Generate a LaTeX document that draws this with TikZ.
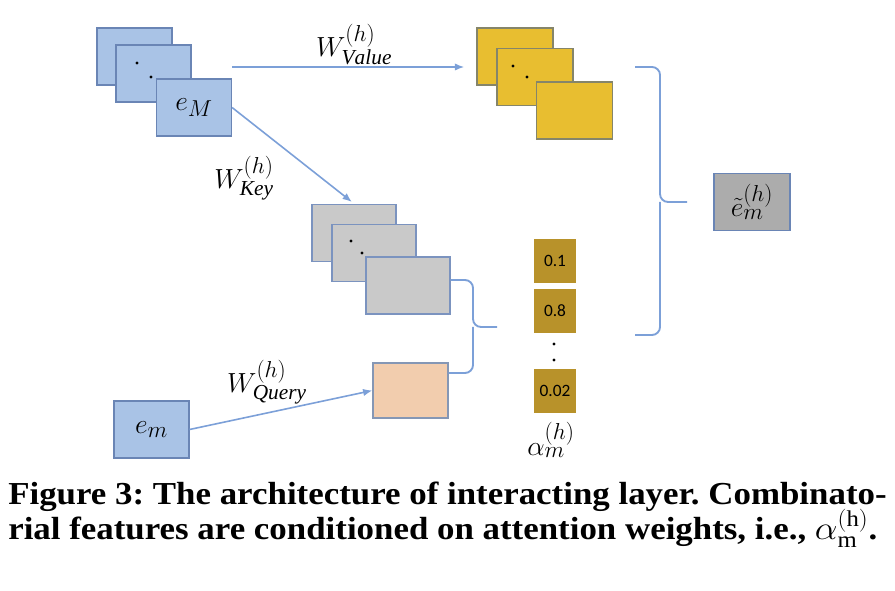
\documentclass[tikz,border=0pt]{standalone}
\usepackage{fontspec}
\setmainfont{Liberation Serif}
\newfontfamily\numfont{Carlito}
\usepackage{tikz}
\usetikzlibrary{arrows.meta}
\DeclareMathSizes{20}{20}{16}{12}
\DeclareMathSizes{24}{24}{17}{12}
\frenchspacing
\definecolor{embfill}{HTML}{A9C3E6}
\definecolor{embline}{HTML}{6A85B5}
\definecolor{valfill}{HTML}{E8BE30}
\definecolor{valline}{HTML}{85856A}
\definecolor{keyfill}{HTML}{C9C9C9}
\definecolor{keyline}{HTML}{7B93BF}
\definecolor{qryfill}{HTML}{F2CDAE}
\definecolor{qryline}{HTML}{8597B5}
\definecolor{wgtfill}{HTML}{B8922A}
\definecolor{outfill}{HTML}{ACACAC}
\definecolor{arrcol}{HTML}{7CA0D8}
\tikzset{box/.style={draw, line width=1.1pt, inner sep=0pt,
         minimum width=56pt, minimum height=43pt,
         font=\fontsize{20}{22}\selectfont},
         embbox/.style={box, fill=embfill, draw=embline},
         valbox/.style={box, fill=valfill, draw=valline, minimum width=57pt},
         keybox/.style={box, fill=keyfill, draw=keyline, minimum width=63pt},
         qrybox/.style={box, fill=qryfill, draw=qryline, minimum height=41pt},
         outbox/.style={box, fill=outfill, draw=embline, minimum width=57pt},
         wgtbox/.style={fill=wgtfill, inner sep=0pt,
         minimum width=31.5pt, minimum height=33pt,
         font=\numfont\fontsize{13}{15}\selectfont},
         arr/.style={draw=arrcol, line width=1.2pt,
         -{Latex[length=7pt,width=5.5pt]}},
         brc/.style={draw=arrcol, line width=1.4pt, rounded corners=6pt},
         lbl/.style={font=\fontsize{20}{22}\selectfont},
         captext/.style={anchor=base west, inner sep=0pt,
         font=\bfseries\fontsize{24}{28}\selectfont}}

\begin{document}
\begin{tikzpicture}[x=0.75pt,y=-0.75pt]
      \useasboundingbox (0,0) rectangle (895,591);

      \begin{scope}
        \node[embbox] (b1) at (134.5,56.5) {};
        \node[embbox] (b2) at (153.5,73.5) {};
        \fill (137,63) circle (1.6) (151,77) circle (1.6);
        \node[embbox] (eM) at (194,107.5) {$e_M$};
      \end{scope}

      \begin{scope}
        \node[valbox] (v1) at (515,56.5) {};
        \node[valbox] (v2) at (535,77) {};
        \fill (513,66) circle (1.6) (527,77) circle (1.6);
        \node[valbox] (v3) at (574.5,110.5) {};
      \end{scope}

      \begin{scope}
        \node[keybox] (k1) at (354,233) {};
        \node[keybox] (k2) at (374,253) {};
        \fill (351,241) circle (1.6) (362,253) circle (1.6);
        \node[keybox] (k3) at (408,285.5) {};
      \end{scope}

      \node[qrybox] (q) at (410.5,390.5) {};
      \node[embbox] (em) at (151.5,429.5) {$e_m$};

      \node[wgtbox] (w1) at (555,261) {0.1};
      \node[wgtbox] (w2) at (555,311) {0.8};
      \fill (554,344) circle (1.6) (554,360) circle (1.6);
      \node[wgtbox] (w3) at (555,391) {0.02};
      \node[lbl] (alpha) at (551,440) {$\alpha_m^{(h)}$};

      \node[outbox] (et) at (752,202) {$\tilde{e}_m^{(h)}$};

      \coordinate (vstart) at (232,67);
      \draw[arr, shorten >=9pt] (vstart) -- (v1.west |- vstart)
        node[lbl, midway, above=-2pt] (wv) {$W^{(h)}_{\mathit{Value}}$};
      \draw[arr, shorten >=2pt] (eM.east) -- (k1.north);
      \node[lbl] (wk) at (244,178) {$W^{(h)}_{\mathit{Key}}$};
      \draw[arr] (em.east) -- (q.west);
      \node[lbl] (wq) at (267,382) {$W^{(h)}_{\mathit{Query}}$};

      \draw[brc] (k3.east |- 0,280) -- (473,280) -- (473,327) -- (497,327);
      \draw[brc] (q.east |- 0,373) -- (473,373) -- (473,327);
      \draw[brc] (635,67) -- (660,67) -- (660,202) -- (687,202);
      \draw[brc] (635,335) -- (660,335) -- (660,202);

      \node[captext, xscale=1.09] (cap1) at (8,504)
        {Figure 3: The architecture of interacting layer. Combinato-};
      \node[captext, xscale=1.09] (cap2) at (8,539)
        {rial features are conditioned on attention weights, i.e., $\alpha_{\mathrm{m}}^{(\mathrm{h})}$.};
\end{tikzpicture}
\end{document}
